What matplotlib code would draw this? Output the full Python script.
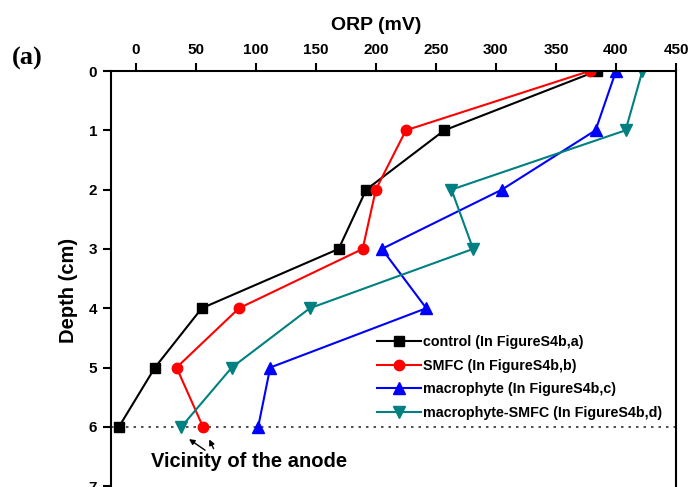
import matplotlib
matplotlib.use("Agg")
import matplotlib.pyplot as plt

plt.rcParams['font.family'] = ['Liberation Sans', 'DejaVu Sans']

depth = [0, 1, 2, 3, 4, 5, 6]
control = [384, 257, 192, 169, 55, 16, -14]
smfc = [378, 225, 200, 189, 86, 34, 56]
macrophyte = [400, 383, 305, 205, 242, 112, 102]
macro_smfc = [422, 408, 263, 281, 145, 80, 38]

labels = ["control (In FigureS4b,a)", "SMFC (In FigureS4b,b)",
          "macrophyte (In FigureS4b,c)", "macrophyte-SMFC (In FigureS4b,d)"]
colors = ["#000000", "#ff0000", "#0000ff", "#008080"]
markers = ["s", "o", "^", "v"]
msizes = [7.2, 7.5, 8, 8]
xticks = [0, 50, 100, 150, 200, 250, 300, 350, 400, 450]
yticks = [0, 1, 2, 3, 4, 5, 6, 7]

W, H = 689, 487
fig = plt.figure(figsize=(W / 100, H / 100), dpi=100)
ax = fig.add_axes([111 / W, -0.0226, (676 - 111) / W, 427 / H])

for vals, lab, c, m, ms in zip([control, smfc, macrophyte, macro_smfc], labels, colors, markers, msizes):
    ax.plot(vals, depth, color=c, marker=m, markersize=ms, linewidth=1.5, label=lab)

ax.axhline(6, color="#333333", linestyle=(0, (1.5, 3)), linewidth=1.2, zorder=0)

ax.set_xlim(-20.6, 450)
ax.set_ylim(7.2, 0)
ax.xaxis.tick_top()
ax.xaxis.set_label_position('top')
ax.set_xticks(xticks)
ax.set_yticks(yticks)
ax.tick_params(axis='both', direction='out', length=6, width=1.5, labelsize=11, pad=4)
for t in ax.get_xticklabels() + ax.get_yticklabels():
    t.set_fontweight('bold')
for s in ax.spines.values():
    s.set_linewidth(1.5)

ax.set_xlabel("ORP (mV)", fontsize=14, fontweight='bold')
ax.xaxis.set_label_coords((376.5 - 111) / (676 - 111), 1 + (71 - 25) / 427, transform=ax.transAxes)
ax.xaxis.label.set_va('center')
ax.set_ylabel("Depth (cm)", fontsize=14.5, fontweight='bold')
ax.yaxis.set_label_coords(-(111 - 68) / (676 - 111), (498 - 290.5) / 427, transform=ax.transAxes)
ax.yaxis.label.set_va('center')

fig.text(12 / W, 1 - 58 / H, "(a)", fontsize=19, fontweight='bold',
         family=['Liberation Serif', 'DejaVu Serif'], va='center', ha='left')

ax.text(94.4, 6.59, "Vicinity of the anode", fontsize=14.5, fontweight='bold',
        ha='center', va='center')
ax.annotate("", xy=(42.5, 6.18), xytext=(59.6, 6.42),
            arrowprops=dict(arrowstyle='-|>', color='black', lw=1, mutation_scale=8))
ax.annotate("", xy=(60.3, 6.17), xytext=(65.8, 6.41),
            arrowprops=dict(arrowstyle='-|>', color='black', lw=1, mutation_scale=8))

leg = ax.legend(loc='upper left', bbox_to_anchor=(377 / W, 1 - 335 / H),
                bbox_transform=fig.transFigure, frameon=False, borderpad=0,
                borderaxespad=0, handlelength=3.1, handletextpad=0.15,
                labelspacing=0.68, prop={'size': 10.3, 'weight': 'bold'})

fig.savefig("out.png", dpi=100, facecolor='white')
